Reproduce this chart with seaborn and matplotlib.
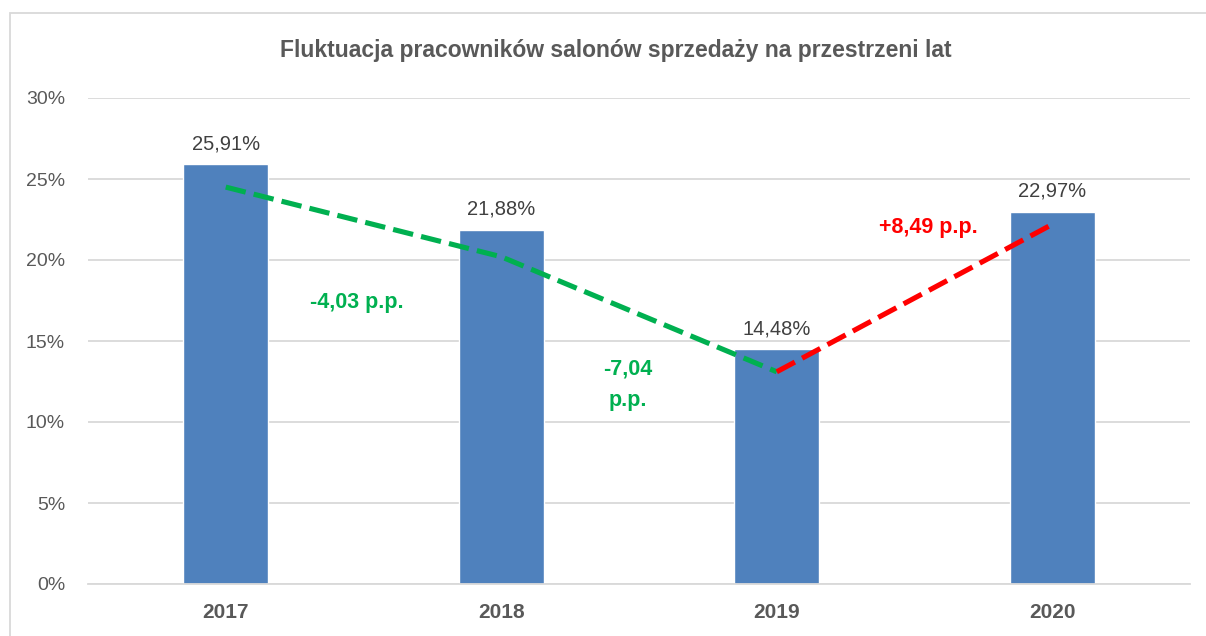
import matplotlib
matplotlib.use('Agg')
import matplotlib.pyplot as plt
import numpy as np
import pandas as pd
import seaborn as sns
from matplotlib.patches import Rectangle

# dane
lata = ['2017', '2018', '2019', '2020']
fluktuacja = [25.91, 21.88, 14.48, 22.97]
etykiety = ['25,91%', '21,88%', '14,48%', '22,97%']
# linia trendu (przerywana) - punkty
trend_spadek = [24.5, 20.2, 13.1]
trend_wzrost = [13.1, 22.2]
zmiany = ['-4,03 p.p.', '-7,04\np.p.', '+8,49 p.p.']

dane = pd.DataFrame({'Rok': lata, 'Fluktuacja': fluktuacja})

sns.set_style('white')
plt.rcParams['font.family'] = ['Liberation Sans', 'DejaVu Sans']

szary = '#595959'
fig = plt.figure(figsize=(12.06, 6.36), dpi=100)
ax = fig.add_axes([88 / 1206, 1 - 584 / 636, (1190 - 88) / 1206, (584 - 98) / 636])

sns.barplot(data=dane, x='Rok', y='Fluktuacja', order=lata, color='#4F81BD',
            saturation=1, width=0.31, ax=ax)
ax.bar_label(ax.containers[0], labels=etykiety, padding=8, fontsize=14.5, color='#404040')

poz = np.arange(len(lata))
ax.plot(poz[:3], trend_spadek, color='#00B050', lw=3.7, dashes=(4, 1.6), solid_capstyle='butt')
ax.plot(poz[2:], trend_wzrost, color='#FF0000', lw=3.7, dashes=(4, 1.6), solid_capstyle='butt')

ax.text(0.475, 17.4, zmiany[0], color='#00B050', fontsize=15.5, fontweight='bold', ha='center', va='center')
ax.text(1.46, 12.3, zmiany[1], color='#00B050', fontsize=15.5, fontweight='bold', ha='center', va='center',
        linespacing=1.6)
ax.text(2.55, 22.0, zmiany[2], color='#FF0000', fontsize=15.5, fontweight='bold', ha='center', va='center')

ax.set_xlim(-0.5, 3.5)
ax.set_ylim(0, 30)
ax.set_yticks(range(0, 31, 5))
ax.set_yticklabels([f'{v}%' for v in range(0, 31, 5)])
ax.yaxis.grid(True, color='#D9D9D9', lw=1.3)
ax.set_axisbelow(True)
for s in ['top', 'right', 'left']:
    ax.spines[s].set_visible(False)
ax.spines['bottom'].set_color('#D9D9D9')
ax.spines['bottom'].set_linewidth(1.3)
ax.tick_params(axis='both', length=0, colors=szary)
ax.tick_params(axis='y', pad=16.5, labelsize=14)
ax.tick_params(axis='x', pad=14, labelsize=15)
for t in ax.get_xticklabels():
    t.set_fontweight('bold')
ax.set_xlabel('')
ax.set_ylabel('')

fig.text(616 / 1206, 1 - 51 / 636, 'Fluktuacja pracowników salonów sprzedaży na przestrzeni lat',
         ha='center', va='center', fontsize=16.5, fontweight='bold', color=szary)

# ramka wykresu
fig.patches.append(Rectangle((10 / 1206, -0.1), 1.2, 1.1 - 13 / 636, transform=fig.transFigure,
                             fill=False, edgecolor='#D9D9D9', lw=1.3, zorder=0))

fig.savefig('out.png', dpi=100)
